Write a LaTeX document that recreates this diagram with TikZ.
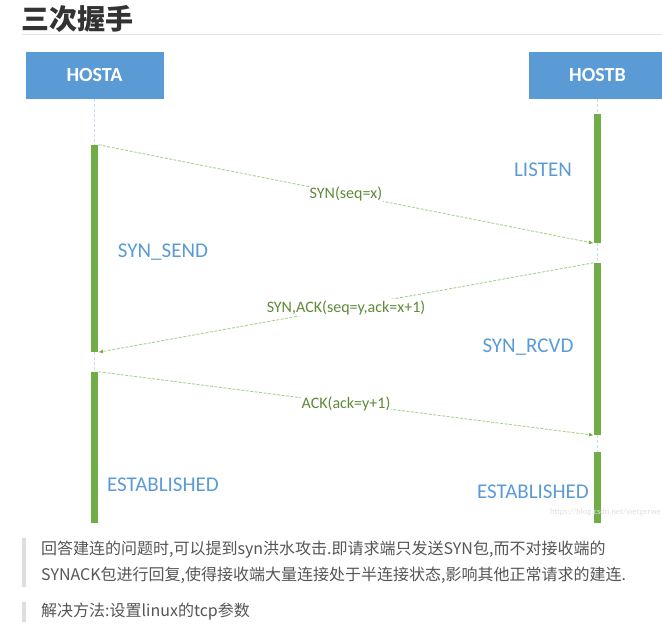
\documentclass[tikz,border=0pt]{standalone}
\usepackage{fontspec}
\setmainfont{Carlito}
\newfontfamily\cjk{Noto Sans CJK SC}
\usetikzlibrary{arrows.meta}
\definecolor{hostblue}{HTML}{5B9BD5}
\definecolor{bargreen}{HTML}{70AD47}
\definecolor{msggreen}{HTML}{A9D18E}
\definecolor{lblgreen}{HTML}{5E8A3A}
\definecolor{lifeblue}{HTML}{C9DCF0}
\definecolor{titlegray}{HTML}{333333}
\definecolor{bodygray}{HTML}{555555}
\tikzset{
  hostbox/.style={rectangle, fill=hostblue, text=white, minimum width=138pt, minimum height=47pt, inner sep=0pt, font=\bfseries\fontsize{20}{20}\selectfont},
  bar/.style={rectangle, fill=bargreen, minimum width=7.5pt, inner sep=0pt},
  lifeline/.style={draw=lifeblue, line width=1.2pt, dash pattern=on 3pt off 2pt},
  msg/.style={draw=msggreen, line width=0.9pt, dash pattern=on 3pt off 1.5pt, -{Latex[length=4.5pt,width=4pt,color=bargreen]}},
  msglabel/.style={fill=white, text=lblgreen, inner sep=1pt, font=\fontsize{16}{16}\selectfont},
  state/.style={text=hostblue, inner sep=0pt, font=\fontsize{21}{21}\selectfont},
  quotebar/.style={fill=black!13},
  bodytext/.style={anchor=west, inner sep=0pt, text=bodygray, font=\cjk\fontsize{16}{16}\selectfont},
}
\begin{document}
\begin{tikzpicture}[x=1pt,y=-1pt]
\useasboundingbox (0,0) rectangle (662,631);
% title
\node[anchor=west, inner sep=0pt, text=titlegray, font=\cjk\bfseries\fontsize{28}{28}\selectfont] (title) at (21,19) {三次握手};
\draw[black!10, line width=0.8pt] (22,34) -- (662,34);
% hosts
\node[hostbox] (hosta) at (94.5,75.5) {HOSTA};
\node[hostbox] (hostb) at (597.5,75.5) {HOSTB};
% activation bars
\node[bar, minimum height=207pt] (a1) at (94.5,248.5) {};
\node[bar, minimum height=151pt] (a2) at (94.5,447.5) {};
\node[bar, minimum height=129pt] (b1) at (597.5,178.5) {};
\node[bar, minimum height=172pt] (b2) at (597.5,349) {};
\node[bar, minimum height=71pt] (b3) at (597.5,487.5) {};
% lifelines
\draw[lifeline] (hosta.south) -- (a1.north);
\draw[lifeline] (a1.south) -- (a2.north);
\draw[lifeline] (hostb.south) -- (b1.north);
\draw[lifeline] (b1.south) -- (b2.north);
\draw[lifeline] (b2.south) -- (b3.north);
% messages
\draw[msg] (a1.north east) -- node[msglabel] (m1) {SYN(seq=x)} (b1.south west);
\draw[msg] (b2.north west) -- node[msglabel] (m2) {SYN,ACK(seq=y,ack=x+1)} (a1.south east);
\draw[msg] (a2.north east) -- node[msglabel] (m3) {ACK(ack=y+1)} (b2.south west);
% states
\node[state] (listen) at (543,170) {LISTEN};
\node[state] (synsend) at (163,252) {SYN\_SEND};
\node[state] (synrcvd) at (528,347) {SYN\_RCVD};
\node[state] (estA) at (163,485) {ESTABLISHED};
\node[state] (estB) at (533,492) {ESTABLISHED};
% watermark
\node[anchor=east, inner sep=0pt, text=black!12, font=\fontsize{8.5}{8.5}\selectfont] (wm) at (661,512) {https://blog.csdn.net/wergerwe};
% text block
\fill[quotebar] (22,538) rectangle (26,587);
\fill[quotebar] (22,602) rectangle (26,622);
\node[bodytext] (t1) at (41,550) {回答建连的问题时,可以提到syn洪水攻击.即请求端只发送SYN包,而不对接收端的};
\node[bodytext] (t2) at (41,575) {SYNACK包进行回复,使得接收端大量连接处于半连接状态,影响其他正常请求的建连.};
\node[bodytext] (t3) at (41,612) {解决方法:设置linux的tcp参数};
\end{tikzpicture}
\end{document}
